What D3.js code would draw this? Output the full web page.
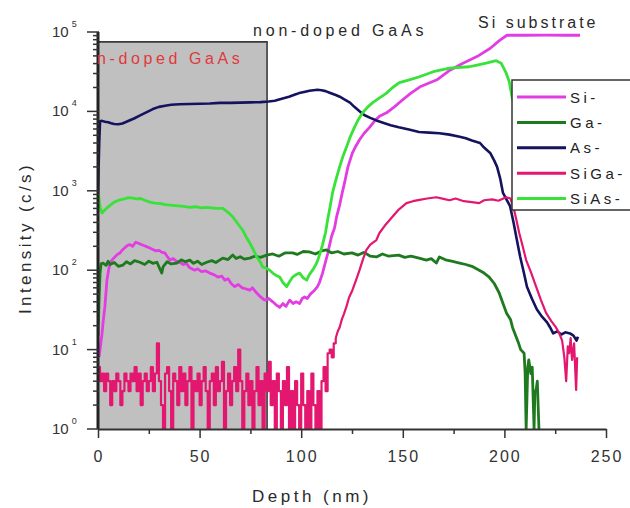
<!DOCTYPE html>
<html><head><meta charset="utf-8">
<script src="https://cdn.jsdelivr.net/npm/d3@7"></script>
<style>body{margin:0;background:#fff}svg{display:block}</style>
</head><body><svg id="c" width="630" height="508"></svg>
<script>
// ---------- data ----------
const seriesNames = ["Si-", "Ga-", "As-", "SiGa-", "SiAs-"];
const xTicks = [0, 50, 100, 150, 200, 250];
const yTicks = [1, 10, 100, 1000, 10000, 100000];
const regionLabels = ["n-doped GaAs", "non-doped GaAs", "Si substrate"];
const shadeEnd = 83.2;      // nm, end of n-doped GaAs region
const shadeTop = 75000;     // top of shaded box (c/s)

const siData = [[0.5,8],[1,10],[2,16],[2.5,22],[3.4,35],[4.4,75],[5.2,100],[5.9,123],[7,135],[8.3,147],[9.5,158],[10.8,165],[12,180],[13.5,195],[14.5,205],[15.7,210],[17,200],[18.5,225],[19.6,220],[21,212],[22.5,205],[24,198],[25.5,190],[27,182],[28.5,175],[30,178],[31.5,168],[32.9,165],[34,150],[35.4,134],[37,140],[38.5,130],[40.3,126],[42,118],[43.5,122],[45,108],[47.6,100],[49,104],[51,96],[53,98],[55,92],[57,88],[59,82],[61,84],[62.4,75],[64,78],[65.5,68],[67.3,62],[69,66],[71,60],[73,58],[74.7,56],[76,60],[78,52],[80,46],[82,42],[84,44],[86,40],[88,36],[89.4,34],[91,38],[92.5,35],[94.3,42],[96,38],[97.5,40],[99.2,38],[100.5,44],[101.7,46],[103,44],[104.5,50],[106.6,56],[108,62],[109,70],[110.5,92],[111.5,115],[113,160],[114,210],[115,270],[116.4,340],[117.5,480],[118.9,660],[120,900],[121.3,1250],[123,2000],[125.2,3000],[127,3700],[128.7,4400],[131,5300],[133.6,6300],[136,7500],[138.5,8700],[142,9600],[146,11500],[149.8,13900],[154,17000],[158.5,20400],[166.8,25000],[173.2,33000],[179.6,40500],[186.5,49000],[192.9,62000],[197.8,79000],[201.3,91000],[210,91000],[220,91500],[230,91000],[237.2,91000]];

const gaData = [[0,15],[0.5,40],[1,90],[1.5,120],[2.5,123],[4,115],[5,130],[6,118],[8,125],[10,112],[12.3,116],[14,128],[16,120],[18,132],[20.6,126],[23,118],[25,130],[27,122],[29,126],[31.4,92],[32,110],[34,128],[36,120],[38.8,123],[41,135],[43,128],[45.2,134],[47,122],[49,130],[51,118],[53.5,126],[56,132],[58,125],[61.4,142],[64,136],[66.3,155],[68,140],[70,148],[72,138],[74.7,142],[77,150],[80,145],[83,155],[86,160],[89,150],[92,165],[95.8,165],[98,158],[101,172],[104,170],[107,160],[110,175],[112.5,180],[115,165],[118,172],[121,160],[125,165],[128,155],[131,168],[134,150],[137,147],[140,160],[143,150],[148,155],[151,145],[154,150],[158,142],[161.6,134],[164,140],[166.5,123],[168,147],[171,135],[174,130],[178,123],[181,118],[184,112],[187.6,100],[190,92],[192.5,82],[195,68],[197.4,52],[199,40],[201,29],[203,24],[204,19],[206,14],[207,12],[208,10],[209.7,9],[210.2,5],[210.7,1],[211.5,6],[212,7.4],[213,5],[213.7,6],[214.6,1],[215,3],[215.6,3.1],[216.2,4],[217,1],[217.6,1]];

const asData = [[0,900],[0.3,2000],[0.6,4000],[1,7500],[2,7600],[3.4,7400],[5,7300],[6.5,7100],[8,6950],[10,6900],[12,7050],[14,7400],[16,7800],[18,8200],[20,8700],[23,9500],[25,10100],[27,10700],[30,11400],[33,11800],[36,12100],[40,12300],[45,12400],[50,12500],[55,12600],[60,12800],[65,12800],[70,12900],[75,13000],[80,13100],[84,13300],[87,13600],[90,14300],[94,15300],[97,16300],[99,17000],[102,17700],[104,18200],[106,18500],[108,18700],[110,18500],[112,18000],[114,17200],[117,16100],[119,15300],[121,14300],[124,12900],[126,11500],[129,9900],[131,9000],[134,8300],[137,7700],[141,7100],[144,6700],[148,6300],[153,5900],[158,5500],[163,5400],[168,5300],[173,5100],[178,4800],[181,4600],[184,4300],[188,4000],[190,3500],[193,3000],[195,2400],[196.4,2000],[198,1400],[199.3,940],[201,780],[202.8,640],[204.5,400],[206,250],[207.7,150],[209.5,95],[211.1,62],[213.5,44],[216,32],[218.5,26],[221,22],[222.5,19],[224,16],[226,17],[228,15.5],[230,16.5],[232.3,16],[234,15],[235.5,13],[236.2,14.5]];

const siGaData = [[0,6],[1,4],[2,5],[3,3],[4,5],[5,4],[6,2],[7,4],[8,3],[9,5],[10,4],[11,2],[12,3],[13,5],[14,4],[15,3],[16,5],[17,4],[18,6],[19,3],[20,5],[21,2],[22,4],[23,5],[24,3],[25,4],[26,6],[27,3],[28,5],[29,12],[30,4],[31,2],[32,1],[33,5],[34,6],[35,3],[36,1],[37,5],[38,4],[39,2],[40,6],[41,3],[42,5],[43,2],[44,4],[45,6],[46,1],[47,4],[48,3],[49,5],[50,2],[51,4],[52,6],[53,3],[54,1],[55,4],[56,5],[57,2],[58,6],[59,3],[60,4],[61,7],[62,1],[63,3],[64,5],[65,2],[66,4],[67,6],[68,3],[69,10],[70,4],[71,1],[72,3],[73,5],[74,2],[75,4],[76,1],[77,3],[78,6],[79,2],[80,4],[81,1],[82,5],[83,3],[84,7],[85,2],[86,4],[87,1],[88,5],[89,3],[90,1],[91,4],[92,2],[93,6],[94,1],[95,3],[96,1],[97,4],[98,2],[99,1],[100,5],[101,2],[102,1],[103,3],[104,1],[105,5],[106,2],[107,1],[108,3],[109,1],[110,4],[111,6],[112,3],[113,9],[114,10],[115,8],[116,12],[117,14],[118,17],[118.9,19],[120,24],[121,28],[122.3,35],[123.5,45],[125.2,56],[127,75],[128.7,100],[130.5,140],[132.1,180],[134,210],[137,240],[138.5,294],[141,360],[144.9,470],[148,580],[151.8,700],[155,740],[158.2,770],[162,800],[166.5,830],[170,790],[173,760],[176,800],[180,740],[184,720],[187.6,700],[190,760],[194,780],[197,750],[200.9,830],[203,800],[204.8,570],[206,420],[207.3,294],[209,200],[210.7,134],[213,95],[215.6,62],[218,42],[220.5,29],[223,23],[225.4,19],[227,16],[228.4,13],[229.5,8],[230.4,4],[231.2,11],[231.9,9],[232.6,14],[233.3,7.4],[234.3,12],[235.3,3.1],[235.8,8]];

const siAsData = [[0,950],[0.5,800],[1,620],[2,525],[3,560],[4.5,610],[6,660],[8,720],[10.8,770],[13,790],[15,820],[17.2,810],[19,790],[21,800],[23,760],[25.5,720],[28,700],[31,690],[33,670],[35.4,660],[38,650],[41,640],[43,630],[45.2,620],[48,630],[51,610],[53.5,620],[56,610],[58,600],[61.4,600],[63,560],[64.5,520],[66.3,470],[68,410],[70,350],[71.2,320],[73,260],[74.7,220],[76.5,180],[78.1,147],[80,125],[81,110],[83,105],[84.5,100],[86,92],[88,85],[89.4,82],[91,70],[92.8,62],[94,70],[95.8,82],[97.5,88],[99.2,92],[101,80],[102.7,75],[104,88],[105.6,100],[107,115],[108,130],[109.5,170],[110.5,210],[112,300],[113,430],[114.3,650],[115.4,940],[117,1350],[118.9,2000],[120.5,2700],[122.3,3550],[124,4700],[126.2,6300],[128,7800],[130.2,9600],[132.5,11200],[135,12800],[138,14500],[142,17000],[145,20000],[148.3,23000],[153.2,25000],[158.2,27300],[165,31600],[173,35000],[182.7,36500],[186,38000],[191,40500],[196,43500],[198.4,40500],[200.9,30300],[202.4,23600],[204,14000]];

const allSeries = [siData, gaData, asData, siGaData, siAsData];

// ---------- styles ----------
const colors = ["#e23de2", "#1f7a1f", "#14145e", "#e3176f", "#38e238"];
const widths = [2.8, 2.8, 2.6, 2.2, 2.8];
const FONT = "'Liberation Sans', Arial, sans-serif";
const noiseEnd = 117; // SiGa drawn as steps up to here (counting-noise region)

const svg = d3.select("#c");
const x = d3.scaleLinear().domain([0, 250]).range([98, 606]);
const y = d3.scaleLog().domain([1, 1e5]).range([429, 32]);

// shaded region
svg.append("rect")
  .attr("x", x(0)).attr("y", y(shadeTop))
  .attr("width", x(shadeEnd) - x(0)).attr("height", y(1) - y(shadeTop))
  .attr("fill", "#c0c0c0");
svg.append("path")
  .attr("d", `M${x(0)},${y(shadeTop)}H${x(shadeEnd)}V${y(1)}`)
  .attr("fill", "none").attr("stroke", "#3a3a3a").attr("stroke-width", 1.6);

// lines
svg.append("clipPath").attr("id", "clip").append("rect")
  .attr("x", x(0)).attr("y", y(1e5) - 5).attr("width", x(250) - x(0)).attr("height", y(1) - y(1e5) + 6);
const px = d => x(d[0]), py = d => y(Math.max(1, d[1]));
allSeries.forEach((s, i) => {
  const parts = i === 3
    ? [[s.filter(d => d[0] <= noiseEnd), d3.curveStepAfter], [s.filter(d => d[0] >= noiseEnd), d3.curveLinear]]
    : [[s, d3.curveLinear]];
  parts.forEach(([pts, curve]) => {
    svg.append("path").datum(pts)
      .attr("d", d3.line().x(px).y(py).curve(curve))
      .attr("fill", "none")
      .attr("stroke", colors[i])
      .attr("stroke-width", widths[i])
      .attr("stroke-linejoin", "round")
      .attr("clip-path", "url(#clip)");
  });
});

// axes
const gx = svg.append("g").attr("transform", `translate(0,${y(1)})`);
gx.call(d3.axisBottom(x).tickValues(d3.range(0, 251, 25)).tickFormat("").tickSize(5).tickSizeOuter(0));
gx.selectAll(".tick line").filter(d => d % 50 === 0).attr("y2", 9);
gx.select(".domain").attr("stroke", "#333").attr("stroke-width", 2);
gx.selectAll(".tick line").attr("stroke", "#333").attr("stroke-width", 1.5);
xTicks.forEach(t => {
  gx.append("text").attr("x", x(t) + 1).attr("y", 33)
    .attr("text-anchor", "middle").attr("font-family", FONT)
    .attr("font-size", 16).attr("letter-spacing", 2).attr("fill", "#333")
    .text(t);
});

const minorY = [];
for (let e = 0; e < 5; e++) for (let m = 2; m <= 9; m++) minorY.push(m * Math.pow(10, e));
const gy = svg.append("g").attr("transform", `translate(${x(0)},0)`);
gy.append("line").attr("x1", 0).attr("x2", 0).attr("y1", y(1e5)).attr("y2", y(1))
  .attr("stroke", "#222").attr("stroke-width", 3);
gy.selectAll(".mn").data(minorY).enter().append("line")
  .attr("x1", -5).attr("x2", 1).attr("y1", d => y(d)).attr("y2", d => y(d))
  .attr("stroke", "#333").attr("stroke-width", 1.5);
yTicks.forEach(t => {
  gy.append("line").attr("x1", -11).attr("x2", 1).attr("y1", y(t)).attr("y2", y(t))
    .attr("stroke", "#333").attr("stroke-width", 1.5);
  const tx = gy.append("text").attr("x", -46).attr("y", y(t) + 5)
    .attr("font-family", FONT).attr("font-size", 15).attr("fill", "#333");
  tx.append("tspan").text("10");
  tx.append("tspan").attr("dx", 3).attr("dy", -10).attr("font-size", 9).text(String(Math.round(Math.log10(t))));
});

// axis titles
svg.append("text").attr("x", 252).attr("y", 502)
  .attr("font-family", FONT).attr("font-size", 17).attr("letter-spacing", 3.5).attr("fill", "#2a2a2a")
  .text("Depth (nm)");
svg.append("text").attr("transform", "translate(31,238) rotate(-90)")
  .attr("text-anchor", "middle")
  .attr("font-family", FONT).attr("font-size", 17).attr("letter-spacing", 3.4).attr("fill", "#2a2a2a")
  .text("Intensity (c/s)");

// region labels
svg.append("text").attr("x", 97).attr("y", 64)
  .attr("font-family", FONT).attr("font-size", 16).attr("letter-spacing", 3.6).attr("fill", "#e0383c")
  .text(regionLabels[0]);
svg.append("text").attr("x", 253).attr("y", 36)
  .attr("font-family", FONT).attr("font-size", 16).attr("letter-spacing", 3.8).attr("fill", "#2a2a2a")
  .text(regionLabels[1]);
svg.append("text").attr("x", 478).attr("y", 28)
  .attr("font-family", FONT).attr("font-size", 16).attr("letter-spacing", 3).attr("fill", "#2a2a2a")
  .text(regionLabels[2]);

// legend
const lg = svg.append("g");
lg.append("rect").attr("x", 512).attr("y", 80).attr("width", 140).attr("height", 130)
  .attr("fill", "#fff").attr("stroke", "#333").attr("stroke-width", 1.5);
seriesNames.forEach((n, i) => {
  const ly = 97 + i * 25.4;
  lg.append("line").attr("x1", 517).attr("x2", 566).attr("y1", ly).attr("y2", ly)
    .attr("stroke", colors[i]).attr("stroke-width", 3);
  lg.append("text").attr("x", 570).attr("y", ly + 5.5)
    .attr("font-family", FONT).attr("font-size", 15).attr("letter-spacing", 3.5).attr("fill", "#222")
    .text(n);
});
</script></body></html>
